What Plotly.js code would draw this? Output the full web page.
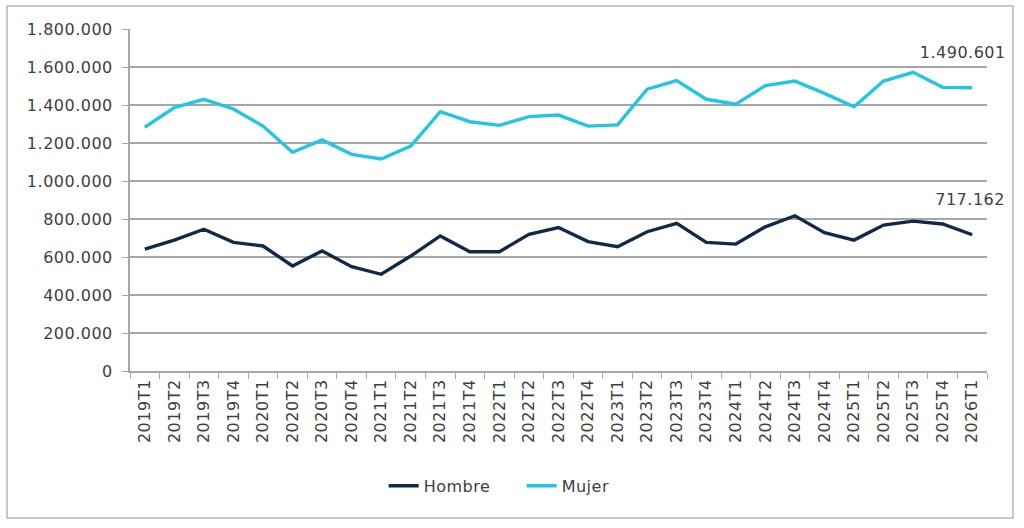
<!DOCTYPE html>
<html>
<head>
<meta charset="utf-8">
<script src="https://cdn.plot.ly/plotly-3.0.1.min.js"></script>
<style>
  body { margin: 0; background: #fff; }
  #wrap { position: relative; width: 1024px; height: 528px; }
  #plot { width: 1024px; height: 528px; }
  #plot text { letter-spacing: 0.5px; }
  #frame { position: absolute; left: 6px; top: 5px; width: 1004px; height: 510px;
           border: 2px solid #c8c8c8; pointer-events: none; }
</style>
</head>
<body>
<div id="wrap">
  <div id="plot"></div>
  <div id="frame"></div>
</div>
<script>
const quarters = ["2019T1","2019T2","2019T3","2019T4","2020T1","2020T2","2020T3","2020T4",
  "2021T1","2021T2","2021T3","2021T4","2022T1","2022T2","2022T3","2022T4",
  "2023T1","2023T2","2023T3","2023T4","2024T1","2024T2","2024T3","2024T4",
  "2025T1","2025T2","2025T3","2025T4","2026T1"];

const hombre = [642000, 689000, 746000, 677000, 658000, 553000, 632000, 549000,
  509000, 605000, 711000, 628000, 628000, 719000, 755000, 681000,
  654000, 733000, 777000, 677000, 668000, 759000, 817000, 728000,
  689000, 768000, 789000, 774000, 717162];

const mujer = [1283000, 1386000, 1430000, 1379000, 1289000, 1151000, 1216000, 1140000,
  1116000, 1184000, 1365000, 1312000, 1293000, 1339000, 1347000, 1289000,
  1295000, 1483000, 1528000, 1430000, 1404000, 1502000, 1526000, 1461000,
  1391000, 1526000, 1572000, 1493000, 1490601];

const lastLabels = ["717.162", "1.490.601"];

const textColor = "#404040";
const axisGray = "#a6a6a6";
const fontFamily = "DejaVu Sans, Verdana, sans-serif";

const data = [
  {
    x: quarters, y: hombre, name: "Hombre", type: "scatter", mode: "lines",
    line: { color: "#11284b", width: 3.4 }
  },
  {
    x: quarters, y: mujer, name: "Mujer", type: "scatter", mode: "lines",
    line: { color: "#22c6e2", width: 3.4 }
  }
];

const last = quarters.length - 1;

const layout = {
  width: 1024,
  height: 528,
  margin: { l: 130, r: 37, t: 29, b: 157 },
  paper_bgcolor: "#fff",
  plot_bgcolor: "#fff",
  separators: ",.",
  font: { family: fontFamily, size: 16, color: textColor },
  showlegend: true,
  legend: {
    orientation: "h", x: 0.457, xanchor: "center", y: -0.336, yanchor: "middle",
    entrywidth: 93,
    font: { size: 16, color: textColor }
  },
  xaxis: {
    type: "category",
    range: [-0.5, quarters.length - 0.5],
    tickangle: -90,
    tickson: "boundaries",
    ticks: "outside",
    ticklen: 6,
    tickcolor: axisGray,
    showline: true,
    linecolor: axisGray,
    linewidth: 2,
    showgrid: false,
    tickfont: { size: 16, color: textColor },
    fixedrange: true
  },
  yaxis: {
    range: [0, 1800000],
    dtick: 200000,
    tickformat: ",d",
    ticks: "outside",
    ticklen: 6,
    tickcolor: axisGray,
    ticklabelstandoff: 6,
    showline: true,
    linecolor: axisGray,
    linewidth: 2,
    gridcolor: axisGray,
    gridwidth: 1.5,
    zeroline: false,
    tickfont: { size: 16, color: textColor },
    fixedrange: true
  },
  annotations: [
    {
      x: quarters[last], y: hombre[last], text: lastLabels[0], showarrow: false,
      xanchor: "right", yanchor: "middle", xshift: 33, yshift: 35,
      font: { size: 16, color: textColor }
    },
    {
      x: quarters[last], y: mujer[last], text: lastLabels[1], showarrow: false,
      xanchor: "right", yanchor: "middle", xshift: 33, yshift: 35,
      font: { size: 16, color: textColor }
    }
  ]
};

Plotly.newPlot("plot", data, layout, { displayModeBar: false, staticPlot: true });
</script>
</body>
</html>
